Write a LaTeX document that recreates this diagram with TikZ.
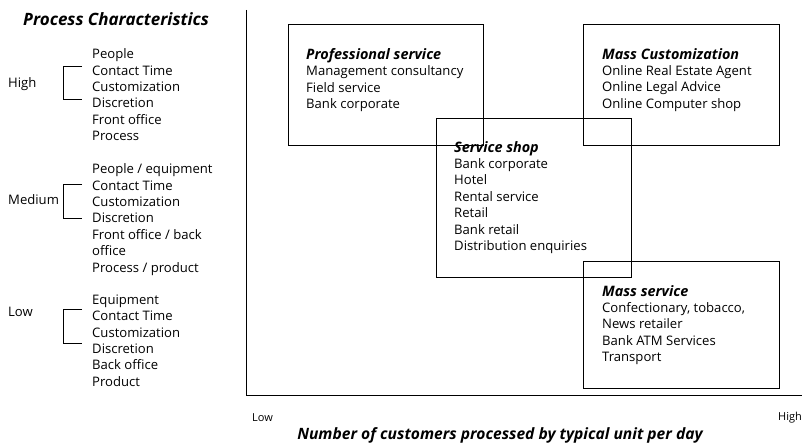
\documentclass[tikz,border=0pt]{standalone}
\usepackage{fontspec}
\setmainfont{Open Sans}
\newcommand\btlfont{\fontsize{14.4}{16.4}\selectfont\bfseries\itshape}
\begin{document}
\begin{tikzpicture}[x=1pt,y=-1pt,
  txt/.style={font=\fontsize{13.1}{16.4}\selectfont, align=left, anchor=north west, inner sep=0pt},
  boxtxt/.style={font=\fontsize{13.1}{16.4}\selectfont, align=left, anchor=north west, inner sep=0pt},
  lvl/.style={font=\fontsize{13.1}{15}\selectfont, anchor=west, inner sep=0pt},
  ttl/.style={font=\fontsize{17}{20}\selectfont\bfseries\itshape, inner sep=0pt},
  qbox/.style={draw, line width=0.8pt, minimum width=#1, anchor=north west, inner sep=0pt},
  brk/.style={line width=0.7pt},
  axis/.style={line width=0.8pt}]
\useasboundingbox (0,0) rectangle (802,444);
% axes
\coordinate (top) at (246,10);
\coordinate (origin) at (246,395);
\coordinate (right) at (802,395);
\draw[axis] (top) -- (origin) -- (right);
% left column
\node[ttl] (pc) at (116,19) {Process Characteristics};
% High
\node[lvl] (high) at (8,84) {High};
\node[txt] (hlist) at (92,48.5) {People\\Contact Time\\Customization\\Discretion\\Front office\\Process};
\coordinate (h1) at (82,66); \coordinate (h2) at (82,99);
\draw[brk] (h1) -- ++(-19,0) |- (h2);
% Medium
\node[lvl] (med) at (8,200) {Medium};
\node[txt] (mlist) at (92,163.5) {People / equipment\\Contact Time\\Customization\\Discretion\\Front office / back\\office\\Process / product};
\coordinate (m1) at (82,184); \coordinate (m2) at (82,218);
\draw[brk] (m1) -- ++(-19,0) |- (m2);
% Low
\node[lvl] (low) at (8,312) {Low};
\node[txt] (llist) at (92,294.5) {Equipment\\Contact Time\\Customization\\Discretion\\Back office\\Product};
\coordinate (l1) at (82,309); \coordinate (l2) at (82,343);
\draw[brk] (l1) -- ++(-19,0) |- (l2);
% boxes
\node[qbox=195pt, minimum height=121pt] (prof) at (288,24) {};
\node[qbox=196pt, minimum height=121pt] (mcust) at (583,24) {};
\node[qbox=195pt, minimum height=159pt] (shop) at (436,118) {};
\node[qbox=196pt, minimum height=127pt] (mserv) at (583,261) {};
% box texts
\node[boxtxt] (proft) at (306,48) {{\btlfont Professional service}\\Management consultancy\\Field service\\Bank corporate};
\node[boxtxt] (mcustt) at (602,48) {{\btlfont Mass Customization}\\Online Real Estate Agent\\Online Legal Advice\\Online Computer shop};
\node[boxtxt] (shopt) at (454,141) {{\btlfont Service shop}\\Bank corporate\\Hotel\\Rental service\\Retail\\Bank retail\\Distribution enquiries};
\node[boxtxt] (mservt) at (602,285) {{\btlfont Mass service}\\Confectionary, tobacco,\\News retailer\\Bank ATM Services\\Transport};
% x axis labels
\node[lvl, font=\fontsize{11}{13}\selectfont] (xlow) at (252,418) {Low};
\node[font=\fontsize{11}{13}\selectfont, anchor=east, inner sep=0pt] (xhigh) at (802,418) {High};
\node[ttl, font=\fontsize{15.6}{18}\selectfont\bfseries\itshape] (xt) at (500,435) {Number of customers processed by typical unit per day};
\end{tikzpicture}
\end{document}
